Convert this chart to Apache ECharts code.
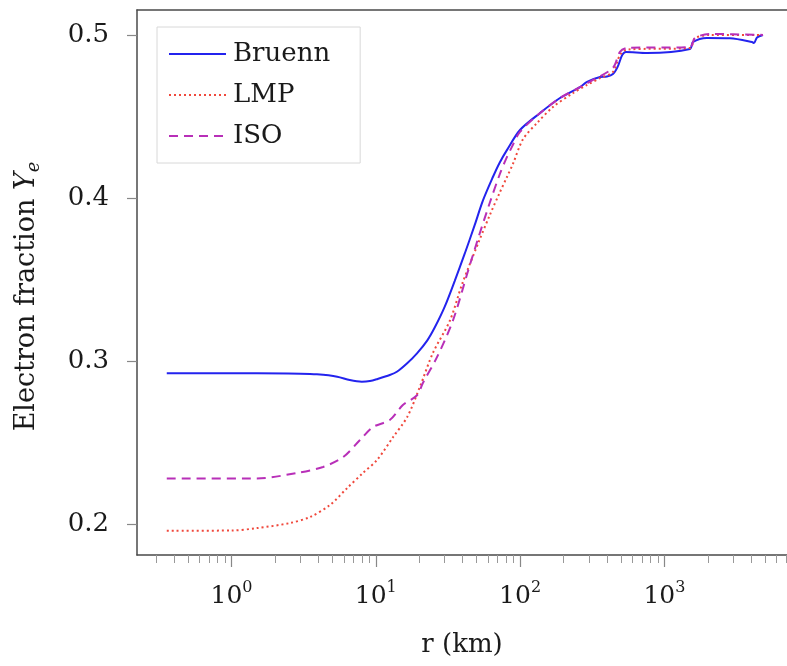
<!DOCTYPE html>
<html>
<head>
<meta charset="utf-8">
<script src="https://cdn.jsdelivr.net/npm/echarts@6/dist/echarts.min.js"></script>
<style>
html,body{margin:0;padding:0;background:#fff;}
#chart{width:787px;height:666px;}
</style>
</head>
<body>
<div id="chart"></div>
<script>
// ---- data (r in km, Ye) ----
const bruennR  = [0.356, 1.5, 3.0, 3.91, 5.4, 6.6, 8.0, 9.1, 10.3, 12.5, 14.0, 16.5, 19.3, 22.7, 25.6, 30.1, 35.2, 41.2, 48.3, 55.3, 64.9, 72.0, 81.2, 99.8, 137, 189, 260, 291, 358, 400, 440, 475, 510, 540, 758, 1504, 1579, 1973, 2849, 4045, 4178, 4383, 4824];
const bruennYe = [0.2925, 0.2925, 0.2922, 0.2918, 0.2904, 0.2883, 0.2873, 0.2877, 0.289, 0.2914, 0.2934, 0.2986, 0.3047, 0.3125, 0.3205, 0.3335, 0.349, 0.3655, 0.383, 0.3985, 0.413, 0.4215, 0.4295, 0.4417, 0.452, 0.4613, 0.468, 0.4712, 0.4742, 0.4745, 0.476, 0.4806, 0.4877, 0.4896, 0.489, 0.4914, 0.4957, 0.4982, 0.498, 0.4957, 0.495, 0.4985, 0.5];

const lmpR  = [0.356, 1.0, 1.5, 2.54, 3.5, 4.82, 6.32, 8.15, 10.2, 13.2, 16.5, 20.2, 24.9, 32.7, 39.6, 51.1, 62.0, 72.0, 81.2, 89.3, 104.7, 131, 169, 233, 291, 358, 440, 492, 551, 1504, 1630, 2070, 4824];
const lmpYe = [0.1959, 0.196, 0.1975, 0.2006, 0.2043, 0.2117, 0.222, 0.2313, 0.2393, 0.2534, 0.2656, 0.2841, 0.305, 0.325, 0.347, 0.372, 0.39, 0.403, 0.413, 0.421, 0.436, 0.446, 0.4558, 0.4644, 0.4693, 0.4735, 0.4773, 0.4877, 0.491, 0.492, 0.498, 0.5, 0.5];

const isoR  = [0.356, 1.5, 2.84, 4.31, 5.93, 7.77, 9.56, 12.5, 15.4, 19.3, 21.2, 26.6, 34.3, 43.5, 51.1, 61.9, 72.6, 80.0, 87.9, 99.8, 137, 189, 260, 320, 440, 492, 551, 1504, 1630, 2070, 4824];
const isoYe = [0.228, 0.228, 0.2313, 0.235, 0.241, 0.2515, 0.2595, 0.2638, 0.273, 0.279, 0.2865, 0.3025, 0.325, 0.355, 0.375, 0.3975, 0.415, 0.424, 0.4315, 0.4405, 0.452, 0.4613, 0.468, 0.4724, 0.4798, 0.4896, 0.492, 0.4926, 0.4982, 0.5006, 0.5];

const seriesNames = ['Bruenn', 'LMP', 'ISO'];
const xMajorTicks = [1, 10, 100, 1000];
const yTicks = [0.2, 0.3, 0.4, 0.5];

// minor log ticks
const xMinorTicks = [];
for (let e = -1; e <= 3; e++) for (let k = 2; k <= 9; k++) xMinorTicks.push(+(k * Math.pow(10, e)).toPrecision(3));

const pairs = (xs, ys) => xs.map((x, i) => [x, ys[i]]);
const FONT = 'DejaVu Serif';
const TXT = '#1a1a1a';
const FRAME = '#4a4a4a';

const chart = echarts.init(document.getElementById('chart'), null, {renderer: 'canvas'});
const xMin = 0.2214, xMax = 7073;

chart.setOption({
  animation: false,
  backgroundColor: '#fff',
  grid: {left: 137, top: 10, right: 0, height: 545, show: false, containLabel: false, outerBoundsMode: 'none'},
  legend: {
    orient: 'vertical', left: 157, top: 27,
    padding: [14, 30, 14, 11],
    itemWidth: 57, itemHeight: 26, itemGap: 15,
    borderColor: '#d8d8d8', borderWidth: 1, backgroundColor: '#fff',
    itemStyle: {opacity: 0},
    textStyle: {fontFamily: FONT, fontSize: 26, color: TXT, lineHeight: 26, padding: [0, 0, 0, 2]},
    data: seriesNames
  },
  xAxis: [
    {
      type: 'log', logBase: 10, min: xMin, max: xMax, position: 'bottom',
      axisLine: {show: true, lineStyle: {color: FRAME, width: 1.5}},
      axisTick: {show: true, length: 12, customValues: xMajorTicks, lineStyle: {color: '#888', width: 1.2}},
      axisLabel: {
        customValues: xMajorTicks, margin: 25,
        formatter: v => '{b|10}{s|' + Math.round(Math.log10(v)) + '}',
        rich: {
          b: {fontFamily: FONT, fontSize: 25, color: TXT, lineHeight: 32},
          s: {fontFamily: FONT, fontSize: 16, color: TXT, lineHeight: 16, verticalAlign: 'top'}
        }
      },
      splitLine: {show: false},
      name: 'r (km)', nameLocation: 'middle', nameGap: 77,
      nameTextStyle: {fontFamily: FONT, fontSize: 26, color: TXT}
    },
    {
      type: 'log', logBase: 10, min: xMin, max: xMax, position: 'bottom',
      axisLine: {show: false},
      axisTick: {show: true, length: 8, customValues: xMinorTicks, lineStyle: {color: '#999', width: 1}},
      axisLabel: {show: false},
      splitLine: {show: false}
    },
    {
      type: 'log', logBase: 10, min: xMin, max: xMax, position: 'top',
      axisLine: {show: true, lineStyle: {color: FRAME, width: 1.5}},
      axisTick: {show: false}, axisLabel: {show: false}, splitLine: {show: false}
    }
  ],
  yAxis: {
    type: 'value', min: 0.181, max: 0.5153,
    axisLine: {show: true, lineStyle: {color: FRAME, width: 1.5}},
    axisTick: {show: true, length: 10, customValues: yTicks, lineStyle: {color: '#888', width: 1.2}},
    axisLabel: {customValues: yTicks, margin: 28, formatter: v => v.toFixed(1), fontFamily: FONT, fontSize: 26, color: TXT},
    splitLine: {show: false},
    name: '{n|Electron fraction }{y|Y}{e|e}', nameLocation: 'middle', nameGap: 94,
    nameTextStyle: {
      padding: [0, 28, 0, 0],
      rich: {
        n: {fontFamily: FONT, fontSize: 27, color: TXT, lineHeight: 32},
        y: {fontFamily: FONT, fontSize: 27, fontStyle: 'italic', color: TXT, lineHeight: 32},
        e: {fontFamily: FONT, fontSize: 18, fontStyle: 'italic', color: TXT, lineHeight: 18, verticalAlign: 'bottom'}
      }
    }
  },
  series: [
    {name: 'Bruenn', type: 'line', xAxisIndex: 0, data: pairs(bruennR, bruennYe), showSymbol: false, symbol: 'none',
     smooth: 0.3, lineStyle: {color: '#2323ee', width: 2}, itemStyle: {color: '#2323ee'}},
    {name: 'LMP', type: 'line', xAxisIndex: 0, data: pairs(lmpR, lmpYe), showSymbol: false, symbol: 'none',
     smooth: 0.3, lineStyle: {color: '#f0483c', width: 2, type: [2, 3]}, itemStyle: {color: '#f0483c'}},
    {name: 'ISO', type: 'line', xAxisIndex: 0, data: pairs(isoR, isoYe), showSymbol: false, symbol: 'none',
     smooth: 0.3, lineStyle: {color: '#b82fb8', width: 2, type: [9, 6]}, itemStyle: {color: '#b82fb8'}}
  ]
});
</script>
</body>
</html>
